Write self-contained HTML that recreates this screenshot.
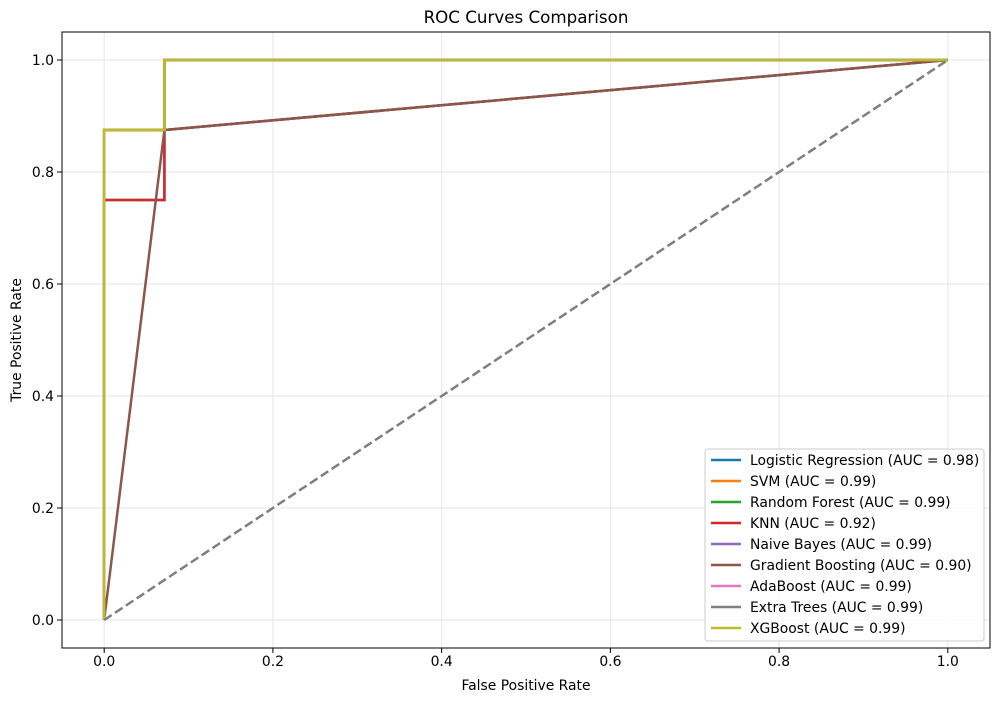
<!DOCTYPE html>
<html><head><meta charset="utf-8"><style>
body{margin:0;background:#fff}
svg{font-family:"DejaVu Sans","Liberation Sans",sans-serif}
</style></head><body>
<svg id="chart" width="1001" height="701"></svg>
<script>
const xTicks=[0,0.2,0.4,0.6,0.8,1.0];
const yTicks=[0,0.2,0.4,0.6,0.8,1.0];
const names=["Logistic Regression","SVM","Random Forest","KNN","Naive Bayes","Gradient Boosting","AdaBoost","Extra Trees","XGBoost"];
const aucs=[0.98,0.99,0.99,0.92,0.99,0.90,0.99,0.99,0.99];
const colors=["#1f77b4","#ff7f0e","#2ca02c","#d62728","#9467bd","#8c564b","#e377c2","#7f7f7f","#bcbd22"];
const fprs=[
[0,0,0.0714,0.0714,1],
[0,0,0.0714,0.0714,1],
[0,0,0.0714,0.0714,1],
[0,0,0.0714,0.0714,1],
[0,0,0.0714,0.0714,1],
[0,0.0714,1],
[0,0,0.0714,0.0714,1],
[0,0,0.0714,0.0714,1],
[0,0,0.0714,0.0714,1]];
const tprs=[
[0,0.75,0.75,0.875,1],
[0,0.875,0.875,1,1],
[0,0.875,0.875,1,1],
[0,0.75,0.75,0.875,1],
[0,0.875,0.875,1,1],
[0,0.875,1],
[0,0.875,0.875,1,1],
[0,0.875,0.875,1,1],
[0,0.875,0.875,1,1]];
const NS="http://www.w3.org/2000/svg";
const svg=document.getElementById('chart');
const L=62,R=990,T=32,B=648;
const sx=v=>L+(v+0.05)/1.1*(R-L);
const sy=v=>B-(v+0.05)/1.1*(B-T);
function el(t,a,p){const e=document.createElementNS(NS,t);for(const k in a)e.setAttribute(k,a[k]);(p||svg).appendChild(e);return e;}
xTicks.forEach(v=>{
const g=el('line',{x1:sx(v),x2:sx(v),y1:T,y2:B,stroke:'#e6e6e6','stroke-width':1});


el('line',{x1:sx(v),x2:sx(v),y1:B,y2:B+5,stroke:'#000'});
const t=el('text',{x:sx(v),y:B+18,'text-anchor':'middle','font-size':13.9});
t.textContent=v.toFixed(1);


});
yTicks.forEach(v=>{
const g=el('line',{x1:L,x2:R,y1:sy(v),y2:sy(v),stroke:'#e6e6e6','stroke-width':1});


el('line',{x1:L-5,x2:L,y1:sy(v),y2:sy(v),stroke:'#000'});
const t=el('text',{x:L-8,y:sy(v)+5,'text-anchor':'end','font-size':13.9});
t.textContent=v.toFixed(1);


});
names.forEach((n,i)=>{
const pts=fprs[i].map((f,j)=>sx(f)+','+sy(tprs[i][j])).join(' ');
const p=el('polyline',{points:pts,fill:'none',stroke:colors[i],'stroke-width':2.5,'stroke-linejoin':'miter'});


});
const d=el('line',{x1:sx(0),y1:sy(0),x2:sx(1),y2:sy(1),stroke:'#7f7f7f','stroke-width':2.5,'stroke-dasharray':'9,4'});


const f=el('rect',{x:L,y:T,width:R-L,height:B-T,fill:'none',stroke:'#000','stroke-width':1});


const ti=el('text',{x:(L+R)/2,y:23,'text-anchor':'middle','font-size':16.7});
ti.textContent='ROC Curves Comparison';


const xl=el('text',{x:(L+R)/2,y:690,'text-anchor':'middle','font-size':13.9});
xl.textContent='False Positive Rate';


const yl=el('text',{x:21,y:(T+B)/2,'text-anchor':'middle','font-size':13.9,transform:'rotate(-90 21 '+((T+B)/2)+')'});
yl.textContent='True Positive Rate';


const lg=el('g',{});


el('rect',{x:705,y:449,width:279,height:192,rx:3,fill:'#fff','fill-opacity':0.8,stroke:'#ccc'},lg);
names.forEach((n,i)=>{
const y=460+i*21;
const g=el('g',{},lg);


el('line',{x1:711,x2:741,y1:y,y2:y,stroke:colors[i],'stroke-width':2.5},g);
const t=el('text',{x:750,y:y+5,'font-size':13.9},g);
t.textContent=n+' (AUC = '+aucs[i].toFixed(2)+')';
});
</script>
</body></html>
